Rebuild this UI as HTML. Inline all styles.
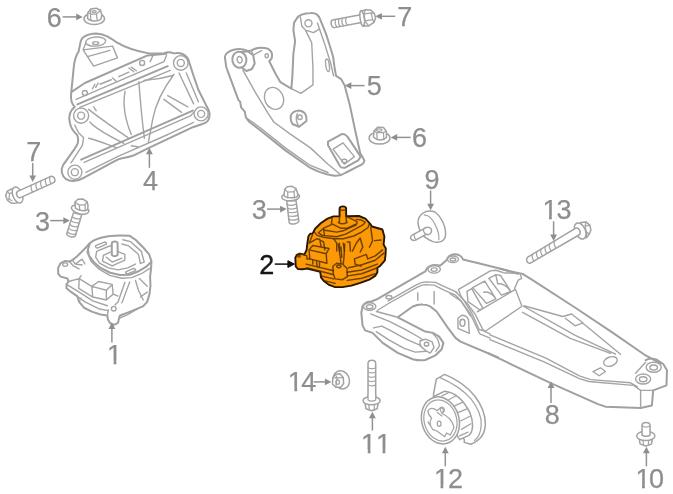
<!DOCTYPE html>
<html><head><meta charset="utf-8"><title>Engine mount diagram</title>
<style>
html,body{margin:0;padding:0;background:#fff;}
body{width:673px;height:494px;overflow:hidden;}
svg{display:block;filter:blur(0.62px);}
.lbl text{font-family:"Liberation Sans",sans-serif;font-size:27px;font-kerning:none;fill:#8e8e8e;stroke:#8e8e8e;stroke-width:0.25px;}
.lbl text.k{fill:#151515;stroke:#151515;stroke-width:0.4px;}
.ar line{stroke:#929292;stroke-width:1.5;}
.ar polygon{fill:#8e8e8e;}
.ar .k{stroke:#111;fill:#111;}
.p path,.p ellipse,.p circle,.p line,.p polyline,.p polygon,.p rect{fill:none;stroke:#a4a4a4;stroke-width:1.4;stroke-linejoin:round;stroke-linecap:round;vector-effect:non-scaling-stroke;}
.p .w{fill:#fff;stroke-width:2;stroke:#a0a0a0;}
.p .t{stroke-width:2;stroke:#a0a0a0;}
.p .s path,.p .s ellipse,.p .s circle{stroke-width:1.25;stroke:#a4a4a4;}
.p .s .w{stroke-width:1.5;stroke:#a2a2a2;}
.o path,.o ellipse,.o circle,.o line,.o polyline,.o polygon,.o rect{fill:none;stroke:#4a2a00;stroke-opacity:0.8;stroke-width:1.45;stroke-linejoin:round;stroke-linecap:round;vector-effect:non-scaling-stroke;}
.o .f{fill:#fc9906;stroke:#2a1600;stroke-opacity:1;stroke-width:1.9;}
</style></head>
<body>
<svg width="673" height="494" viewBox="0 0 673 494">
<rect width="673" height="494" fill="#fff"/>
<g class="p" id="parts">
<g id="part4" transform="translate(56 24) scale(0.2511)">
<path class="w" d="M97,75 C100,55 120,40 160,38 C190,38 215,55 240,72 C270,90 320,108 370,117 L430,117 C440,112 455,112 470,117 C495,112 520,122 528,145 L549,210 L567,262 L600,328 C612,345 614,365 608,380 C602,392 590,397 580,399 L545,411 L370,493 L320,518 C300,530 270,532 250,538 L230,548 L110,613 C90,625 60,630 40,618 C22,605 18,580 28,562 L70,503 C90,475 92,465 85,443 C65,425 58,410 55,393 C50,370 55,345 75,330 C62,318 58,300 60,280 L70,180 C72,150 75,130 90,110 Z"/>
<ellipse cx="158" cy="70" rx="40" ry="18" transform="rotate(-4 158 70)"/>
<ellipse cx="158" cy="76" rx="12" ry="6"/>
<path d="M118,78 L108,103 L150,168 L245,135 L225,88 M108,103 L225,88 M125,130 L215,105"/>
<path class="t" d="M62,270 L115,235 L365,125 L440,118 M85,320 L445,168"/>
<path d="M80,300 L430,150 L440,125 M95,332 L455,185"/>
<circle cx="115" cy="275" r="10"/><circle cx="343" cy="155" r="10"/>
<path d="M145,258 L155,240 M158,252 L168,235 M175,240 L220,222 M225,215 L240,228 M250,210 L290,192 M290,175 L310,190 M300,172 L320,186 M375,150 L385,128"/>
<circle cx="497" cy="155" r="29"/><circle cx="497" cy="155" r="14"/>
<circle cx="100" cy="365" r="30"/><circle cx="100" cy="365" r="14"/>
<circle cx="578" cy="358" r="28"/><circle cx="578" cy="358" r="14"/>
<circle cx="75" cy="590" r="28"/><circle cx="75" cy="590" r="14"/>
<path d="M490,195 L548,318 M519,195 L567,310 M470,200 C440,240 400,300 385,380 C378,420 372,450 368,470 M330,230 C335,300 345,400 352,455 M275,268 C265,320 275,380 300,440 M350,225 C390,222 430,215 465,205 M430,300 L500,352 M445,285 L525,330"/>
<path d="M130,340 C180,380 240,420 290,455 M135,390 C160,420 220,450 270,475 M130,455 C170,465 200,478 240,492 M150,330 L160,345"/>
<path class="t" d="M100,540 L545,345"/>
<path d="M112,551 L535,366 L548,352 M119,591 L245,528 L446,440 L548,392 M300,485 L330,490"/>
<path d="M75,403 L90,433 L110,453 L105,483 L60,553"/>
</g>

<g id="part5" transform="translate(210 5) scale(0.2511)">
<path class="w" d="M345,55 C350,42 375,32 400,32 C420,30 432,40 438,55 L462,115 L478,165 L490,205 L497,255 L502,282 L522,295 L536,320 L557,399 L578,499 L598,589 L615,619 C612,632 605,637 595,640 L540,668 C525,678 505,682 490,679 L465,674 C440,668 420,660 400,649 L300,579 L200,499 L157,466 L143,448 L139,426 L124,408 L120,385 L113,378 L72,267 L65,248 L59,207 C60,195 75,182 98,177 C115,174 135,176 150,183 L165,181 C175,175 190,170 200,170 C215,170 225,172 230,174 C240,180 248,190 247,200 L246,212 L236,224 L261,274 L280,307 L324,333 L328,285 L332,196 L339,144 L332,100 L335,70 Z"/>
<circle cx="392" cy="73" r="14"/>
<path d="M360,48 L366,85 L380,100 L405,150 L410,250 L410,318 L362,352 L324,333 M380,100 L412,110 L432,98 M428,72 L455,150 L480,230 L492,282"/>
<ellipse cx="468" cy="240" rx="7" ry="25" transform="rotate(-8 468 240)"/>
<path class="t" d="M125,187 L150,184 L172,200 L178,233 L167,255 L145,263 L128,250"/>
<ellipse class="t" cx="117" cy="218" rx="28" ry="32" transform="rotate(-12 117 218)"/>
<ellipse cx="118" cy="218" rx="10" ry="13" transform="rotate(-10 118 218)"/>
<ellipse cx="226" cy="202" rx="6.5" ry="8"/>
<path d="M172,200 L205,182 M165,181 L172,200"/>
<ellipse cx="255" cy="372" rx="37" ry="45" transform="rotate(-25 255 372)"/>
<path class="t" d="M322,440 C325,428 340,420 355,420 C372,422 382,432 384,448 L384,462 L355,485 L330,475 C322,465 320,452 322,440 Z"/>
<path d="M355,485 C345,470 340,450 348,432"/>
<circle cx="358" cy="447" r="9"/>
<path d="M131,259 L183,352 L232,433 L254,466 L320,514 L400,569 L470,634 L500,659 L522,677 M143,448 L200,489 L300,569 L400,639 L470,667"/>
<path class="t" d="M470,544 L525,514 C535,512 542,518 548,525 L600,604 L590,619 L540,647 C530,650 522,648 518,642 L470,559 Z"/>
<path d="M490,574 L530,549 L575,604 L535,634 Z"/>
<ellipse cx="535" cy="621" rx="10" ry="7"/>
</g>

<g id="part1" transform="translate(50 230) scale(0.19433)">
<path class="w" d="M205,68 C220,52 260,38 300,32 C330,28 380,27 410,30 L440,50 L480,90 L510,125 L522,160 L520,200 L515,240 L517,285 L512,330 L500,370 L480,392 L450,405 L400,425 L360,440 L355,455 L350,478 L330,488 L310,480 L298,460 L295,440 L260,435 L215,420 L175,400 L150,370 L140,340 L110,320 L85,300 L85,280 L95,265 L90,250 L55,240 L42,225 L42,195 L55,170 L75,160 L100,162 L115,155 L140,135 L180,95 Z"/>
<path class="t" d="M205,68 L195,100 L200,130 L225,165 L260,195 L310,220 L360,232 L410,230 L450,215 L494,190 L520,165"/>
<path d="M190,110 L210,160 L250,200 L310,235 L370,248 L420,245 L470,225 L518,195"/>
<path d="M235,80 L280,62 C288,62 292,68 290,73 L245,93 C237,93 233,87 235,80 Z M390,215 L430,198 C438,198 442,204 440,209 L400,226 C392,226 388,221 390,215 Z"/>
<path d="M240,110 L300,85 L320,80 M240,110 L235,140 L255,170 L300,195 L350,205 L400,195 L440,175"/>
<path class="w" d="M318,68 C320,56 346,56 348,68 L348,128 C340,137 326,137 318,128 Z"/>
<path d="M275,130 L318,110 M348,110 L385,125 L385,155 L320,185 L270,160 L275,130 M290,140 L320,165 L370,145"/>
<path d="M375,50 L415,60 L470,110 L485,165 L465,172 L455,125 L405,82 L370,72"/>
<ellipse cx="78" cy="178" rx="13" ry="9"/>
<path d="M100,162 L120,185 L150,200 M115,155 L130,175 L165,180 M130,175 L165,150 L180,175 M95,265 L150,250 L160,235 M150,250 L215,290 L290,310 L290,360 L220,345 L215,290 M215,290 L250,265 L320,280 L290,310 M320,280 L325,330 L290,360 M150,250 L148,300 L220,345"/>
<path d="M385,270 L350,370 L335,385 M410,268 L370,375 M440,260 L455,310 L480,360 M460,250 L500,290 M325,330 L350,340 M500,320 L465,345"/>
<path d="M85,280 L150,320 L220,365 L295,390 M110,320 L180,370 L250,405 L300,415 M150,370 L160,350 M355,455 L400,435 L460,400 M295,440 L300,412"/>
<circle cx="328" cy="405" r="12"/>
</g>

<g id="part8a" transform="translate(350 250) scale(0.2511)">
<path class="t" d="M50,225 C55,212 70,205 85,205 L110,195 L300,85 C305,70 320,62 335,60 L360,62 L385,40 C390,25 405,17 420,17 C435,18 447,28 450,38 L520,55 L600,75 L669,95"/>
<path class="t" d="M50,225 L45,250 L50,300 L60,320 L90,330 L130,370 L190,410 L250,435 C270,440 290,440 300,438 L340,420 L365,395 L372,370 L355,345 L330,330 L300,325 L190,268 L250,225 C265,218 280,216 290,217 C305,218 315,222 320,225 L345,245 L390,310 L420,350 L440,365 L590,428"/>
<path d="M152,203 L262,140 C280,130 295,127 305,127 L340,129 L378,147 L425,168 M110,240 L150,215 L265,150 C280,142 290,138 300,138 L335,140 L370,158 L420,180 L440,200 L480,262 M105,245 L190,268 M270,170 L270,200 M335,165 L335,215"/>
<ellipse cx="410" cy="37" rx="22" ry="13"/><ellipse cx="410" cy="38" rx="11" ry="6"/>
<ellipse cx="335" cy="77" rx="25" ry="15"/><ellipse cx="335" cy="78" rx="12" ry="7"/>
<ellipse cx="78" cy="225" rx="25" ry="15"/><ellipse cx="78" cy="226" rx="13" ry="8"/>
<ellipse cx="155" cy="188" rx="12" ry="7"/>
<path d="M430,272 L445,260 C458,260 468,268 472,278 L475,332 L430,312 Z"/>
<ellipse cx="448" cy="290" rx="10" ry="14"/>
</g>
<g id="part8b" transform="translate(500 250) scale(0.2511)">
<path class="t" d="M0,75 L90,95 L130,120 L300,230 L450,330 L580,420 L640,452"/>
<path d="M95,222 L250,265 L285,255 L330,290 L300,302 L260,272 M95,225 L300,340 L460,415 M330,292 L480,415 M90,248 L280,352 L440,412"/>
</g>
<g id="part8c" transform="translate(500 310) scale(0.2511)">
<ellipse cx="440" cy="205" rx="28" ry="18" transform="rotate(-20 440 205)"/>
<path d="M370,245 L400,230 L420,245 L395,262 Z"/>
<ellipse cx="612" cy="228" rx="30" ry="20"/><ellipse cx="612" cy="229" rx="15" ry="10"/>
<ellipse cx="570" cy="275" rx="30" ry="20"/><ellipse cx="570" cy="276" rx="15" ry="10"/>
<path class="t" d="M580,200 C590,192 610,192 625,198 L650,215 L665,240 L663,300 L610,320 L605,380 L560,390 L420,385 L390,375 L200,290 L0,195 L-48,172"/>
<path d="M560,320 L560,388 M540,252 L580,208 M610,320 L560,320 L535,302"/>
</g>
<g id="part8d" transform="translate(450 290) scale(0.18634)">
<path d="M0,20 L60,60 L110,130 L150,215 L160,235 L215,258 M30,10 L90,70 L135,130 L175,210 L190,225 L215,236"/>
</g>
<g id="part8e" transform="translate(490 320) scale(0.18634)">
<path d="M0,80 L300,205 L480,300 L540,320 L754,337 L790,358 M0,105 L290,225 L480,315 L530,330 L768,351"/>
</g>
<g id="part8f" transform="translate(440 255) scale(0.18634)">
<path d="M100,185 L270,85 L300,82 L340,95 L430,100 L438,125 L420,135 L400,180 M100,188 L110,215 L170,310 L210,400 L245,410 M145,195 L170,180 L230,285 L200,305 M145,195 L150,250 L215,295 M175,175 L240,140 L300,235 L250,260 Z M235,200 C255,195 285,210 300,235 M262,125 L300,105 L325,110 L380,195 L330,215 Z M300,110 L310,155 C330,150 360,165 375,190 M200,305 L405,185 L440,275 L245,408"/>
</g>
<g id="part8g" transform="translate(352 286) scale(0.18634)">
<path d="M100,150 L200,190 L290,235 L360,275 L380,290 M115,225 L160,215 L200,235 L290,285 L370,320 M130,245 L200,290 L280,335 L340,355 L400,350 M365,295 L395,285 L430,300 L440,330 L420,360 L400,350 L365,320 Z M430,250 L460,285 L470,320 L450,350"/>
<ellipse cx="400" cy="312" rx="12" ry="10"/>
</g>

<g class="s" id="part12" transform="translate(400 366) scale(0.18634)">
<path class="w" d="M180,150 L195,70 L240,45 C300,70 360,110 400,160 C435,205 458,260 458,310 C458,360 430,400 380,420 L345,410 L345,395 L180,165 Z"/>
<path d="M215,62 C280,90 340,130 380,175 C415,220 438,270 436,315 C434,355 420,385 400,400"/>
<path class="w" d="M180,165 L240,135 C290,140 340,180 375,250 C395,300 395,350 370,372 L320,395 Z"/>
<ellipse class="w" cx="217" cy="292" rx="100" ry="128" transform="rotate(-16 217 292)"/>
<ellipse cx="217" cy="292" rx="87" ry="112" transform="rotate(-16 217 292)"/>
<path d="M255,185 L300,160 M290,215 L335,195 M310,250 L360,230 M325,295 L375,270 M330,340 L380,310 M320,375 L365,355 M225,160 L262,142"/>
<path d="M150,240 C160,220 185,225 200,240 L215,225 C225,215 240,225 238,240 L225,255 C250,265 280,290 290,330 L270,370 L250,360 L240,380 L200,350 L175,340 C160,320 155,300 170,280 C160,270 150,255 150,240 Z M150,300 L170,330 M200,250 L225,268"/>
<ellipse cx="210" cy="310" rx="10" ry="14"/>
<ellipse cx="225" cy="238" rx="8" ry="12" transform="rotate(-20 225 238)"/>
</g>

<g class="s">
<g id="nut6a" transform="translate(40 0) scale(0.12556)">
<ellipse class="w" cx="432" cy="150" rx="82" ry="46"/>
<path class="w" d="M378,145 L382,100 L405,72 L448,66 L482,82 L492,120 L486,150 C470,172 400,175 378,145 Z"/>
<path d="M405,72 L402,110 L382,100 M402,110 L405,158 M402,110 L450,112 L482,82 M450,112 L455,160"/>
<ellipse cx="432" cy="92" rx="16" ry="8"/>
</g>
<g id="bolt7a" transform="translate(322 0) scale(0.16642)">
<path class="w" d="M62,120 L232,88 L236,135 L75,166 C55,168 48,128 62,120 Z"/>
<path d="M82,120 C76,135 80,155 90,162 M102,116 C96,131 100,151 110,158 M122,112 C116,127 120,147 130,154 M145,108 C139,123 143,143 153,150"/>
<ellipse class="w" cx="242" cy="110" rx="13" ry="48" transform="rotate(-8 242 110)"/>
<path class="w" d="M240,66 L262,58 L295,62 L315,82 L322,108 L312,135 L280,156 L252,156 C262,130 258,90 240,66 Z"/>
<path d="M262,58 L250,85 L258,125 L280,156 M250,85 L295,78 L315,82 M295,78 L305,118 L312,135 M258,125 L305,118"/>
</g>
<g id="bolt7b" transform="translate(0 170) scale(0.09506)">
<path class="w" d="M120,200 L75,225 L60,270 L80,320 L120,350 L180,347 L190,200 Z"/>
<path d="M75,225 L100,250 L95,300 L80,320 M100,250 L130,235 M95,300 L125,325"/>
<ellipse class="w" cx="185" cy="263" rx="50" ry="88" transform="rotate(-22 185 263)"/>
<path class="w" d="M185,225 L540,65 C570,60 590,110 570,130 L215,290 C180,300 160,245 185,225 Z"/>
<path d="M330,160 C322,185 332,220 345,232 M380,138 C372,163 382,198 395,210 M430,115 C422,140 432,175 445,187 M480,93 C472,118 482,153 495,165 M525,73 C517,98 527,133 540,145"/>
</g>
<g id="bolt3a" transform="translate(56 192) scale(0.09709)">
<path class="w" d="M180,215 L110,430 C115,460 180,475 200,450 L265,235 Z"/>
<path d="M168,255 C185,272 225,282 252,275 M155,295 C172,312 212,322 240,315 M142,335 C159,352 199,362 228,355 M129,375 C146,392 186,402 216,395 M118,412 C135,429 175,439 205,432"/>
<ellipse class="w" cx="248" cy="180" rx="92" ry="44" transform="rotate(14 248 180)"/>
<path class="w" d="M195,105 L225,75 L275,72 L320,100 L330,140 L325,182 C300,200 230,195 200,165 Z"/>
<path d="M195,105 L240,135 L300,130 L320,100 M240,135 L245,190 M300,130 L300,190"/>
</g>
<g id="bolt3b" transform="translate(262 180) scale(0.09709)">
<path class="w" d="M255,215 L280,440 C295,462 365,455 380,425 L350,210 Z"/>
<path d="M259,250 C275,265 330,265 355,248 M263,288 C279,303 334,303 360,286 M267,326 C283,341 338,341 365,324 M271,364 C287,379 342,379 370,362 M275,402 C291,417 346,417 375,400"/>
<ellipse class="w" cx="295" cy="172" rx="92" ry="42" transform="rotate(-3 295 172)"/>
<path class="w" d="M235,95 L260,70 L310,65 L350,90 L365,130 L370,165 C345,190 255,192 225,160 Z"/>
<path d="M235,95 L265,125 L330,120 L350,90 M265,125 L265,185 M330,120 L335,182"/>
</g>
<g id="nut6b" transform="translate(360 110) scale(0.18634)">
<ellipse class="w" cx="105" cy="150" rx="56" ry="33"/>
<path class="w" d="M72,145 L76,112 L96,92 L126,94 L142,115 L142,148 C125,165 90,165 72,145 Z"/>
<path d="M76,112 L90,122 L92,158 M90,122 L126,120 L142,115 M126,120 L128,160"/>
<ellipse cx="103" cy="108" rx="14" ry="7"/>
</g>
<g id="part9" transform="translate(400 196) scale(0.09709)">
<path class="w" d="M240,175 C260,160 280,155 300,155 C325,155 345,158 360,165 C385,185 405,205 420,230 C440,260 452,290 460,320 C468,350 472,375 470,400 C468,422 462,438 450,450 C435,465 420,472 400,475 C380,478 360,476 340,470 C318,462 298,452 280,440 C265,430 252,420 240,410 C222,388 208,365 200,340 C192,318 186,294 185,270 C186,250 190,232 200,215 C212,198 225,185 240,175 Z"/>
<path d="M250,195 C275,198 295,205 310,220 C330,240 348,265 360,290 C375,320 388,350 395,380 C400,405 402,428 400,450"/>
<path class="w" d="M130,400 L245,338 C262,318 300,315 318,335 C335,355 320,392 295,398 L268,395 L160,455 C130,468 100,440 110,420 C114,410 120,404 130,400 Z"/>
<path d="M245,338 C235,355 248,385 268,395 M150,392 C140,410 150,440 168,450"/>
</g>
<g id="bolt13" transform="translate(524 216) scale(0.10698)">
<path class="w" d="M530,60 L580,55 L615,85 L625,130 L610,170 L585,200 L530,210 Z"/>
<path d="M580,55 L570,95 L585,150 L610,170 M570,95 L615,85 M585,150 L585,200"/>
<ellipse class="w" cx="525" cy="140" rx="48" ry="80" transform="rotate(-25 525 140)"/>
<path class="w" d="M35,385 L480,115 C520,100 540,165 510,180 L60,440 C25,450 15,400 35,385 Z"/>
<path d="M80,358 C72,380 82,412 95,420 M120,334 C112,356 122,388 135,396 M160,310 C152,332 162,364 175,372 M200,286 C192,308 202,340 215,348 M240,262 C232,284 242,316 255,324 M285,235 C277,257 287,289 300,297"/>
</g>
<g id="nut14" transform="translate(284 350) scale(0.18634)">
<ellipse class="w" cx="308" cy="160" rx="42" ry="50" transform="rotate(-25 308 160)"/>
<path class="w" d="M262,150 L275,130 L300,128 L318,148 L320,180 L305,200 L278,200 L260,182 Z"/>
<path d="M275,130 L285,150 L278,200 M285,150 L318,148 M285,150 L262,150"/>
<ellipse cx="288" cy="172" rx="10" ry="12"/>
</g>
<g id="bolt11" transform="translate(284 350) scale(0.18634)">
<path class="w" d="M451,70 C453,50 490,50 492,70 L492,268 L451,268 Z"/>
<path d="M451,95 C460,102 480,102 492,95 M451,118 C460,125 480,125 492,118 M451,141 C460,148 480,148 492,141 M451,164 C460,171 480,171 492,164 M451,187 C460,194 480,194 492,187"/>
<path class="w" d="M435,285 L440,315 L470,326 L500,315 L505,285 Z"/>
<path d="M455,295 L458,322 M485,295 L484,322"/>
<ellipse class="w" cx="470" cy="272" rx="46" ry="22"/>
<path class="w" d="M451,268 L451,240 L492,240 L492,268 C480,276 460,276 451,268 Z" style="stroke:none"/>
<path d="M451,240 L451,268 C460,276 480,276 492,268 L492,240"/>
</g>
<g id="part10" transform="translate(561 402) scale(0.18634)">
<path class="w" d="M420,200 L425,226 L455,236 L485,226 L490,200 Z"/>
<path d="M440,208 L443,232 M470,208 L469,232"/>
<ellipse class="w" cx="455" cy="182" rx="49" ry="25"/>
<path class="w" d="M435,125 C437,105 476,105 478,125 L478,178 C468,186 445,186 435,178 Z"/>
<path d="M435,128 C447,136 466,136 478,128"/>
</g>
</g>


</g>
<g class="o" id="orange">
<g id="part2">
<path class="f" d="M339.5,216.2 L339.6,208.2 C340,205.8 345.6,205.8 346.1,208.2 L346.2,216.2 L358.9,216 L365.4,218.6 L370,223.6 L372,226.5 L382.4,229.5 L384.4,236.7 L383.6,244.5 L385.8,248.5 L385.6,254 L384.9,260.3 L379.7,266.3 L377.4,267.8 L377.4,272.2 L375.2,275.9 L369.3,279.7 L360.3,282.9 L351.4,285.6 L342.5,287.1 L335.1,287.1 L329.1,284.9 L323.9,281.1 L321,277.4 L320.2,271.8 L314.3,270.4 L306.9,268.6 L302.5,269.2 L297.9,269 L295.7,266.3 L295.3,257.6 L296.8,255 L300,253.6 L304.3,254.6 L306.5,250.3 L307.4,242.9 L308.4,236.3 L310.2,233.8 L312.7,233.4 L315.1,228.8 L321,223 L327.5,218.6 L333.4,216.4 Z"/>
<path d="M332.1,217.1 L331.5,223.6 L340.6,228.2 L347.2,228.2 L357.0,223.6 L357.0,221.7 L347.8,217.1"/>
<path d="M314.5,232.1 L317.1,235.4 L323.6,237.3 L334.1,238.7 L343.2,238.7 L353.7,236.0 L361.5,232.1 L368.1,227.5 L369.4,223.6"/>
<path d="M331.5,224.7 L323.6,228.2 L318.4,232.8 L322.3,235.4 L336.7,236.7 L345.8,234.1 L362.8,224.9 L365.2,222.3 L361.5,220.0 L356.3,219.4"/>
<path d="M323.6,228.8 L324.3,234.7 M324.9,230.2 L336.7,232.1 L343.2,230.8 L356.3,224.9"/>
<path d="M338.3,222.3 C340.6,223.9 344.5,223.9 347.2,222.3 M339.6,216.0 L339.3,222.6 M346.1,216.0 L346.4,222.6 M340.1,209.5 C341.3,210.5 344.5,210.5 345.7,209.5"/>
<path d="M370.7,227.5 L372.6,240.6 L369.4,247.2 M374.6,240.6 L381.1,240.0"/>
<path d="M312.5,234.7 L309.2,243.2 L317.1,238.7 L323.6,241.9 L324.9,249.8 M319.7,239.3 L321.0,245.8 M334.1,239.3 L336.7,243.2 L336.7,251.1 M339.3,243.2 L340.0,251.1 M343.2,243.2 L344.5,251.1 M347.2,241.9 L349.8,241.9 L350.4,251.1 M360.2,238.0 L356.3,243.2 L352.4,251.1 M360.2,238.0 L362.8,247.2 L360.2,252.0"/>
<path d="M309.1,249.9 L326.2,253.7 L326.9,263.3 L309.8,258.9 Z M309.1,249.9 L312.8,245.5 L329.1,248.5 L326.2,253.7"/>
<path d="M306.9,255.9 L306.9,258.9 L309.8,258.9 M312.8,260.3 L312.8,264.1 M316.5,261.8 L317.3,267.0 L319.5,267.5 L319.5,262.6 M306.1,264.1 L333.6,270.7 M306.9,267.8 L332.9,274.5 M296.5,254.7 L299.4,253.5 L303.1,254.4 L306.9,255.9"/>
<path d="M332.9,266.3 L336.6,263.3 L342.5,264.1 L347.0,268.5 L347.3,276.7 L342.5,279.7 L335.1,278.9 L333.3,273.7 Z"/>
<path d="M338.1,244.0 L340.3,257.4 L341.0,263.3 M344.7,244.0 L344.0,257.4 L343.3,263.3 M341.0,247.0 L341.8,257.4"/>
<path d="M354.4,258.9 L366.3,254.4 L367.8,258.9 L375.2,255.9 L382.6,249.9 M348.5,267.8 L361.8,264.8 L375.2,260.3 L384.1,252.9 M347.0,272.2 L361.8,270.0 L377.4,264.1 M347.7,275.9 L361.8,273.7 L377.4,267.8 M354.4,258.9 L355.2,264.1 L361.1,266.3"/>
<path d="M321.0,275.9 L333.6,278.9 M323.2,280.4 L335.1,283.4 M347.3,280.4 L361.8,278.2 L375.2,273.7"/>
<ellipse cx="338.8" cy="266.3" rx="2.1" ry="1.4"/>
<circle cx="299.0" cy="255.9" r="1.2"/>
</g>

</g>
<g class="ar" id="arrows">
<line x1="62.6" y1="16.9" x2="77.2" y2="16.9"/><polygon points="82.7,16.9 76.2,20.3 76.2,13.5"/>
<line x1="395.2" y1="16.3" x2="380.9" y2="16.3"/><polygon points="375.4,16.3 381.9,12.9 381.9,19.7"/>
<line x1="364.5" y1="85.6" x2="350.3" y2="85.6"/><polygon points="344.8,85.6 351.3,82.2 351.3,89.0"/>
<line x1="410.7" y1="137.4" x2="396.2" y2="137.4"/><polygon points="390.7,137.4 397.2,134.0 397.2,140.8"/>
<line x1="430.6" y1="190.5" x2="430.6" y2="204.8"/><polygon points="430.6,210.3 427.2,203.8 434.0,203.8"/>
<line x1="553.6" y1="221.3" x2="553.6" y2="235.4"/><polygon points="553.6,240.9 550.2,234.4 557.0,234.4"/>
<line x1="32.7" y1="163.0" x2="32.7" y2="176.5"/><polygon points="32.7,182.0 29.3,175.5 36.1,175.5"/>
<line x1="50.2" y1="220.6" x2="64.4" y2="220.6"/><polygon points="69.9,220.6 63.4,224.0 63.4,217.2"/>
<line x1="149.4" y1="167.8" x2="149.4" y2="153.2"/><polygon points="149.4,147.7 152.8,154.2 146.0,154.2"/>
<line x1="267.0" y1="209.1" x2="281.1" y2="209.1"/><polygon points="286.6,209.1 280.1,212.5 280.1,205.7"/>
<line class="k" x1="274.8" y1="264.1" x2="288.9" y2="264.1"/><polygon class="k" points="294.4,264.1 287.9,267.5 287.9,260.7"/>
<line x1="111.9" y1="342.4" x2="111.9" y2="328.0"/><polygon points="111.9,322.5 115.3,329.0 108.5,329.0"/>
<line x1="313.6" y1="381.9" x2="325.9" y2="381.9"/><polygon points="331.4,381.9 324.9,385.3 324.9,378.5"/>
<line x1="372.4" y1="430.5" x2="372.4" y2="417.3"/><polygon points="372.4,411.8 375.8,418.3 369.0,418.3"/>
<line x1="445.3" y1="466.3" x2="445.3" y2="452.2"/><polygon points="445.3,446.7 448.7,453.2 441.9,453.2"/>
<line x1="551.0" y1="402.9" x2="551.0" y2="387.1"/><polygon points="551.0,381.6 554.4,388.1 547.6,388.1"/>
<line x1="646.4" y1="466.3" x2="646.4" y2="452.2"/><polygon points="646.4,446.7 649.8,453.2 643.0,453.2"/>

</g>
<g class="lbl" id="labels">
<text x="46.80" y="26.70">6</text>
<text x="397.30" y="26.00">7</text>
<text x="366.65" y="95.40">5</text>
<text x="412.00" y="146.90">6</text>
<text x="424.45" y="188.50">9</text>
<text x="542.40" y="219.00" dx="0 -0.9">13</text>
<text x="26.35" y="160.60">7</text>
<text x="34.90" y="230.80">3</text>
<text x="142.90" y="190.10">4</text>
<text x="251.75" y="218.90">3</text>
<text x="259.35" y="273.70" class="k">2</text>
<text x="107.00" y="363.80">1</text>
<text x="287.80" y="391.30" dx="0 -1.6">14</text>
<text x="361.10" y="452.80" dx="0 -0.2">11</text>
<text x="433.90" y="488.00" dx="0 -1.0">12</text>
<text x="544.70" y="423.90">8</text>
<text x="635.45" y="487.70" dx="0 -1.6">10</text>

</g>
<g fill="#fff" id="masks">
<rect x="543.60" y="215.80" width="5.4" height="4.4"/><rect x="551.80" y="215.80" width="4.9" height="4.4"/>
<rect x="108.20" y="360.60" width="5.4" height="4.4"/><rect x="116.40" y="360.60" width="4.9" height="4.4"/>
<rect x="289.00" y="388.10" width="5.4" height="4.4"/><rect x="297.20" y="388.10" width="4.9" height="4.4"/>
<rect x="362.30" y="449.60" width="5.4" height="4.4"/><rect x="370.50" y="449.60" width="4.9" height="4.4"/>
<rect x="377.12" y="449.60" width="5.4" height="4.4"/><rect x="385.32" y="449.60" width="4.9" height="4.4"/>
<rect x="435.10" y="484.80" width="5.4" height="4.4"/><rect x="443.30" y="484.80" width="4.9" height="4.4"/>
<rect x="636.65" y="484.50" width="5.4" height="4.4"/><rect x="644.85" y="484.50" width="4.9" height="4.4"/>

</g>
</svg>
</body></html>
